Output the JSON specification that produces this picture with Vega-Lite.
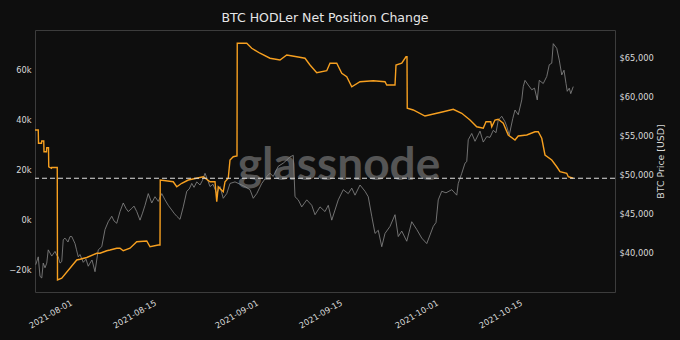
{
  "$schema": "https://vega.github.io/schema/vega-lite/v6.json",
  "width": 580,
  "height": 262,
  "autosize": {"type": "none"},
  "padding": {"left": 35, "top": 30, "right": 65, "bottom": 48},
  "background": "#0e0e0e",
  "title": {"text": "BTC HODLer Net Position Change", "color": "#e6e6e6", "font": "DejaVu Sans", "fontSize": 12.5, "fontWeight": "normal", "offset": 6},
  "config": {
    "view": {"stroke": "#3c3c3c", "strokeWidth": 1, "fill": "#0e0e0e"},
    "axis": {"labelFont": "DejaVu Sans", "labelFontSize": 8.3, "labelColor": "#d8d8d8", "titleFont": "DejaVu Sans", "titleFontWeight": "normal", "titleColor": "#d8d8d8", "domain": false, "ticks": false, "grid": false}
  },
  "datasets": {
    "price": [
      {"date": "2021-07-26T11:00", "price": 38600},
      {"date": "2021-07-26T21:00", "price": 39600},
      {"date": "2021-07-27T04:00", "price": 37100},
      {"date": "2021-07-27T11:00", "price": 36900},
      {"date": "2021-07-27T17:00", "price": 38800},
      {"date": "2021-07-28T00:00", "price": 38200},
      {"date": "2021-07-28T07:00", "price": 38800},
      {"date": "2021-07-28T13:00", "price": 40500},
      {"date": "2021-07-29T03:00", "price": 39700},
      {"date": "2021-07-29T16:00", "price": 40300},
      {"date": "2021-07-29T23:00", "price": 39800},
      {"date": "2021-07-30T05:00", "price": 39600},
      {"date": "2021-07-30T12:00", "price": 38800},
      {"date": "2021-07-30T19:00", "price": 39000},
      {"date": "2021-07-31T01:00", "price": 41800},
      {"date": "2021-07-31T08:00", "price": 42000},
      {"date": "2021-07-31T20:00", "price": 41500},
      {"date": "2021-08-01T04:00", "price": 42200},
      {"date": "2021-08-01T11:00", "price": 42200},
      {"date": "2021-08-02T00:00", "price": 41300},
      {"date": "2021-08-02T06:00", "price": 40500},
      {"date": "2021-08-02T13:00", "price": 39600},
      {"date": "2021-08-02T20:00", "price": 39900},
      {"date": "2021-08-03T09:00", "price": 38900},
      {"date": "2021-08-03T20:00", "price": 39300},
      {"date": "2021-08-04T05:00", "price": 38400},
      {"date": "2021-08-04T12:00", "price": 38800},
      {"date": "2021-08-04T20:00", "price": 39200},
      {"date": "2021-08-05T08:00", "price": 37700},
      {"date": "2021-08-05T21:00", "price": 40500},
      {"date": "2021-08-06T11:00", "price": 40900},
      {"date": "2021-08-07T00:00", "price": 43100},
      {"date": "2021-08-07T13:00", "price": 44100},
      {"date": "2021-08-08T03:00", "price": 44800},
      {"date": "2021-08-08T12:00", "price": 44200},
      {"date": "2021-08-08T23:00", "price": 43900},
      {"date": "2021-08-09T12:00", "price": 45400},
      {"date": "2021-08-10T01:00", "price": 46500},
      {"date": "2021-08-10T12:00", "price": 45800},
      {"date": "2021-08-10T21:00", "price": 45400},
      {"date": "2021-08-11T11:00", "price": 45800},
      {"date": "2021-08-11T20:00", "price": 46100},
      {"date": "2021-08-12T07:00", "price": 45400},
      {"date": "2021-08-12T20:00", "price": 44300},
      {"date": "2021-08-13T06:00", "price": 45200},
      {"date": "2021-08-13T16:00", "price": 46200},
      {"date": "2021-08-14T05:00", "price": 47700},
      {"date": "2021-08-14T19:00", "price": 46500},
      {"date": "2021-08-15T08:00", "price": 47300},
      {"date": "2021-08-15T21:00", "price": 46700},
      {"date": "2021-08-16T11:00", "price": 47700},
      {"date": "2021-08-17T00:00", "price": 46900},
      {"date": "2021-08-17T13:00", "price": 46200},
      {"date": "2021-08-18T03:00", "price": 45600},
      {"date": "2021-08-18T12:00", "price": 45200},
      {"date": "2021-08-18T23:00", "price": 44800},
      {"date": "2021-08-19T12:00", "price": 44400},
      {"date": "2021-08-20T01:00", "price": 46000},
      {"date": "2021-08-20T15:00", "price": 48000},
      {"date": "2021-08-21T01:00", "price": 48300},
      {"date": "2021-08-21T11:00", "price": 49000},
      {"date": "2021-08-21T20:00", "price": 48500},
      {"date": "2021-08-22T07:00", "price": 49200},
      {"date": "2021-08-22T20:00", "price": 48800},
      {"date": "2021-08-23T06:00", "price": 49400},
      {"date": "2021-08-23T16:00", "price": 50300},
      {"date": "2021-08-24T02:00", "price": 49500},
      {"date": "2021-08-24T12:00", "price": 48600},
      {"date": "2021-08-25T00:00", "price": 48900},
      {"date": "2021-08-25T15:00", "price": 47700},
      {"date": "2021-08-26T04:00", "price": 48600},
      {"date": "2021-08-26T17:00", "price": 47100},
      {"date": "2021-08-27T07:00", "price": 47700},
      {"date": "2021-08-27T20:00", "price": 49000},
      {"date": "2021-08-28T16:00", "price": 49200},
      {"date": "2021-08-29T12:00", "price": 48900},
      {"date": "2021-08-30T08:00", "price": 48600},
      {"date": "2021-08-31T04:00", "price": 48200},
      {"date": "2021-08-31T17:00", "price": 47100},
      {"date": "2021-09-01T07:00", "price": 47700},
      {"date": "2021-09-02T03:00", "price": 49000},
      {"date": "2021-09-02T23:00", "price": 49900},
      {"date": "2021-09-03T12:00", "price": 50300},
      {"date": "2021-09-04T01:00", "price": 49900},
      {"date": "2021-09-04T21:00", "price": 51200},
      {"date": "2021-09-05T17:00", "price": 51600},
      {"date": "2021-09-06T07:00", "price": 52000},
      {"date": "2021-09-06T20:00", "price": 52400},
      {"date": "2021-09-07T09:00", "price": 52600},
      {"date": "2021-09-07T16:00", "price": 47300},
      {"date": "2021-09-08T05:00", "price": 46900},
      {"date": "2021-09-08T19:00", "price": 46000},
      {"date": "2021-09-09T15:00", "price": 46900},
      {"date": "2021-09-10T11:00", "price": 46200},
      {"date": "2021-09-11T00:00", "price": 45000},
      {"date": "2021-09-11T20:00", "price": 46000},
      {"date": "2021-09-12T16:00", "price": 45400},
      {"date": "2021-09-13T05:00", "price": 46200},
      {"date": "2021-09-13T19:00", "price": 44300},
      {"date": "2021-09-14T08:00", "price": 45600},
      {"date": "2021-09-14T21:00", "price": 46900},
      {"date": "2021-09-15T17:00", "price": 48200},
      {"date": "2021-09-16T13:00", "price": 47700},
      {"date": "2021-09-17T03:00", "price": 48400},
      {"date": "2021-09-17T16:00", "price": 47500},
      {"date": "2021-09-18T12:00", "price": 48800},
      {"date": "2021-09-19T08:00", "price": 48000},
      {"date": "2021-09-19T21:00", "price": 47300},
      {"date": "2021-09-20T11:00", "price": 44800},
      {"date": "2021-09-21T00:00", "price": 42600},
      {"date": "2021-09-21T13:00", "price": 43000},
      {"date": "2021-09-22T03:00", "price": 40900},
      {"date": "2021-09-22T16:00", "price": 42600},
      {"date": "2021-09-23T12:00", "price": 43500},
      {"date": "2021-09-24T08:00", "price": 45000},
      {"date": "2021-09-24T21:00", "price": 42200},
      {"date": "2021-09-25T11:00", "price": 42900},
      {"date": "2021-09-26T07:00", "price": 41600},
      {"date": "2021-09-27T03:00", "price": 44100},
      {"date": "2021-09-27T23:00", "price": 43100},
      {"date": "2021-09-28T19:00", "price": 42000},
      {"date": "2021-09-29T15:00", "price": 41300},
      {"date": "2021-09-30T04:00", "price": 42400},
      {"date": "2021-09-30T17:00", "price": 43500},
      {"date": "2021-10-01T04:00", "price": 44000},
      {"date": "2021-10-01T13:00", "price": 46900},
      {"date": "2021-10-02T03:00", "price": 48000},
      {"date": "2021-10-02T20:00", "price": 47800},
      {"date": "2021-10-03T19:00", "price": 48200},
      {"date": "2021-10-04T15:00", "price": 47500},
      {"date": "2021-10-04T21:00", "price": 49000},
      {"date": "2021-10-05T11:00", "price": 50300},
      {"date": "2021-10-06T00:00", "price": 51600},
      {"date": "2021-10-06T07:00", "price": 51800},
      {"date": "2021-10-06T13:00", "price": 54600},
      {"date": "2021-10-07T03:00", "price": 55400},
      {"date": "2021-10-07T16:00", "price": 54400},
      {"date": "2021-10-08T12:00", "price": 55700},
      {"date": "2021-10-09T01:00", "price": 54300},
      {"date": "2021-10-09T15:00", "price": 55000},
      {"date": "2021-10-10T04:00", "price": 54900},
      {"date": "2021-10-10T17:00", "price": 55800},
      {"date": "2021-10-11T04:00", "price": 55500},
      {"date": "2021-10-11T13:00", "price": 57100},
      {"date": "2021-10-12T03:00", "price": 57600},
      {"date": "2021-10-12T16:00", "price": 56900},
      {"date": "2021-10-12T23:00", "price": 56300},
      {"date": "2021-10-13T09:00", "price": 55200},
      {"date": "2021-10-13T23:00", "price": 57300},
      {"date": "2021-10-14T08:00", "price": 58400},
      {"date": "2021-10-14T21:00", "price": 57800},
      {"date": "2021-10-15T11:00", "price": 59700},
      {"date": "2021-10-15T17:00", "price": 61400},
      {"date": "2021-10-16T00:00", "price": 62200},
      {"date": "2021-10-16T13:00", "price": 61600},
      {"date": "2021-10-17T03:00", "price": 61000},
      {"date": "2021-10-17T14:00", "price": 61200},
      {"date": "2021-10-18T01:00", "price": 59700},
      {"date": "2021-10-18T09:00", "price": 62200},
      {"date": "2021-10-19T01:00", "price": 61800},
      {"date": "2021-10-19T15:00", "price": 62700},
      {"date": "2021-10-20T01:00", "price": 64200},
      {"date": "2021-10-20T11:00", "price": 64400},
      {"date": "2021-10-20T17:00", "price": 66900},
      {"date": "2021-10-21T07:00", "price": 66300},
      {"date": "2021-10-21T17:00", "price": 64800},
      {"date": "2021-10-22T03:00", "price": 62900},
      {"date": "2021-10-22T12:00", "price": 63500},
      {"date": "2021-10-22T20:00", "price": 61800},
      {"date": "2021-10-23T01:00", "price": 60800},
      {"date": "2021-10-23T09:00", "price": 61200},
      {"date": "2021-10-23T15:00", "price": 60500},
      {"date": "2021-10-24T01:00", "price": 61400}
    ],
    "hodl": [
      {"date": "2021-07-26T08:00", "change": 36000},
      {"date": "2021-07-26T21:00", "change": 36000},
      {"date": "2021-07-26T22:00", "change": 30700},
      {"date": "2021-07-27T10:00", "change": 30700},
      {"date": "2021-07-27T11:00", "change": 31600},
      {"date": "2021-07-27T19:00", "change": 31600},
      {"date": "2021-07-27T20:00", "change": 27300},
      {"date": "2021-07-28T06:00", "change": 27300},
      {"date": "2021-07-28T07:00", "change": 28900},
      {"date": "2021-07-28T14:00", "change": 28900},
      {"date": "2021-07-28T15:00", "change": 21300},
      {"date": "2021-07-29T02:00", "change": 20700},
      {"date": "2021-07-29T03:00", "change": 21000},
      {"date": "2021-07-30T01:00", "change": 21000},
      {"date": "2021-07-30T02:00", "change": -24000},
      {"date": "2021-07-30T19:00", "change": -23300},
      {"date": "2021-08-02T07:00", "change": -16000},
      {"date": "2021-08-02T20:00", "change": -15700},
      {"date": "2021-08-03T23:00", "change": -15000},
      {"date": "2021-08-05T15:00", "change": -13300},
      {"date": "2021-08-06T04:00", "change": -13300},
      {"date": "2021-08-07T07:00", "change": -12300},
      {"date": "2021-08-07T20:00", "change": -12000},
      {"date": "2021-08-08T23:00", "change": -11300},
      {"date": "2021-08-09T12:00", "change": -11300},
      {"date": "2021-08-10T01:00", "change": -12300},
      {"date": "2021-08-11T04:00", "change": -11300},
      {"date": "2021-08-12T07:00", "change": -8700},
      {"date": "2021-08-13T23:00", "change": -8400},
      {"date": "2021-08-14T12:00", "change": -10700},
      {"date": "2021-08-15T21:00", "change": -10000},
      {"date": "2021-08-16T04:00", "change": -10000},
      {"date": "2021-08-16T05:00", "change": 16000},
      {"date": "2021-08-18T09:00", "change": 15300},
      {"date": "2021-08-18T23:00", "change": 13300},
      {"date": "2021-08-19T19:00", "change": 14700},
      {"date": "2021-08-20T21:00", "change": 16000},
      {"date": "2021-08-23T09:00", "change": 17300},
      {"date": "2021-08-24T12:00", "change": 15300},
      {"date": "2021-08-25T08:00", "change": 15300},
      {"date": "2021-08-25T15:00", "change": 7300},
      {"date": "2021-08-25T21:00", "change": 13300},
      {"date": "2021-08-26T17:00", "change": 11300},
      {"date": "2021-08-27T00:00", "change": 15300},
      {"date": "2021-08-27T13:00", "change": 16700},
      {"date": "2021-08-27T20:00", "change": 24000},
      {"date": "2021-08-28T09:00", "change": 25300},
      {"date": "2021-08-29T00:00", "change": 25600},
      {"date": "2021-08-29T01:00", "change": 70700},
      {"date": "2021-08-30T15:00", "change": 70700},
      {"date": "2021-08-31T11:00", "change": 68700},
      {"date": "2021-09-01T20:00", "change": 66700},
      {"date": "2021-09-03T12:00", "change": 64700},
      {"date": "2021-09-05T04:00", "change": 64000},
      {"date": "2021-09-06T07:00", "change": 66000},
      {"date": "2021-09-07T23:00", "change": 65300},
      {"date": "2021-09-09T08:00", "change": 64700},
      {"date": "2021-09-10T04:00", "change": 62000},
      {"date": "2021-09-11T07:00", "change": 58900},
      {"date": "2021-09-12T23:00", "change": 59700},
      {"date": "2021-09-13T12:00", "change": 62700},
      {"date": "2021-09-14T15:00", "change": 62700},
      {"date": "2021-09-15T11:00", "change": 58700},
      {"date": "2021-09-16T07:00", "change": 57300},
      {"date": "2021-09-17T03:00", "change": 53300},
      {"date": "2021-09-18T12:00", "change": 55300},
      {"date": "2021-09-20T17:00", "change": 55700},
      {"date": "2021-09-22T16:00", "change": 55300},
      {"date": "2021-09-22T23:00", "change": 54000},
      {"date": "2021-09-24T08:00", "change": 54000},
      {"date": "2021-09-24T12:00", "change": 62000},
      {"date": "2021-09-25T11:00", "change": 62700},
      {"date": "2021-09-26T04:00", "change": 65300},
      {"date": "2021-09-26T08:00", "change": 65300},
      {"date": "2021-09-26T09:00", "change": 44700},
      {"date": "2021-09-27T09:00", "change": 44000},
      {"date": "2021-09-29T08:00", "change": 41600},
      {"date": "2021-10-01T07:00", "change": 42700},
      {"date": "2021-10-02T09:00", "change": 43300},
      {"date": "2021-10-04T01:00", "change": 44300},
      {"date": "2021-10-05T11:00", "change": 42700},
      {"date": "2021-10-06T20:00", "change": 40000},
      {"date": "2021-10-07T23:00", "change": 37300},
      {"date": "2021-10-09T01:00", "change": 36700},
      {"date": "2021-10-09T12:00", "change": 39300},
      {"date": "2021-10-10T07:00", "change": 39300},
      {"date": "2021-10-10T11:00", "change": 37300},
      {"date": "2021-10-11T00:00", "change": 40000},
      {"date": "2021-10-11T13:00", "change": 40300},
      {"date": "2021-10-12T09:00", "change": 38700},
      {"date": "2021-10-13T05:00", "change": 34000},
      {"date": "2021-10-14T08:00", "change": 32000},
      {"date": "2021-10-14T21:00", "change": 33600},
      {"date": "2021-10-16T07:00", "change": 34000},
      {"date": "2021-10-17T16:00", "change": 35300},
      {"date": "2021-10-18T05:00", "change": 35300},
      {"date": "2021-10-18T19:00", "change": 32700},
      {"date": "2021-10-19T08:00", "change": 26000},
      {"date": "2021-10-20T11:00", "change": 24000},
      {"date": "2021-10-21T07:00", "change": 21300},
      {"date": "2021-10-21T20:00", "change": 19300},
      {"date": "2021-10-22T23:00", "change": 18700},
      {"date": "2021-10-23T05:00", "change": 17300},
      {"date": "2021-10-24T01:00", "change": 16700}
    ],
    "marks": [{"label": "glassnode", "latest": 16700}]
  },
  "layer": [
    {
      "layer": [
        {
          "data": {"name": "marks"},
          "mark": {"type": "text", "font": "Lato", "fontSize": 46, "fontWeight": "bold", "color": "#555555", "align": "center", "baseline": "alphabetic"},
          "encoding": {
            "text": {"field": "label"},
            "x": {"datum": {"year": 2021, "month": 9, "date": 15}, "type": "temporal"},
            "y": {"datum": 49450, "type": "quantitative"}
          }
        },
        {
          "data": {"name": "price"},
          "mark": {"type": "line", "color": "#8a8a8a", "strokeWidth": 0.8},
          "encoding": {
            "x": {"field": "date", "type": "temporal"},
            "y": {"field": "price", "type": "quantitative", "scale": {"domain": [35100, 68650], "nice": false, "zero": false},
              "axis": {"orient": "right", "title": "BTC Price [USD]", "titleFontSize": 9.4, "titleAngle": -90, "titlePadding": 12, "values": [40000, 45000, 50000, 55000, 60000, 65000], "format": "$,.0f", "labelPadding": 4}}
          }
        }
      ]
    },
    {
      "layer": [
        {
          "data": {"name": "hodl"},
          "mark": {"type": "line", "color": "#f7a020", "strokeWidth": 1.4},
          "encoding": {
            "x": {"field": "date", "type": "temporal", "title": null,
              "scale": {"domain": ["2021-07-26T08:00", "2021-10-31T00:00"]},
              "axis": {"values": [{"year": 2021, "month": 8, "date": 1}, {"year": 2021, "month": 8, "date": 15}, {"year": 2021, "month": 9, "date": 1}, {"year": 2021, "month": 9, "date": 15}, {"year": 2021, "month": 10, "date": 1}, {"year": 2021, "month": 10, "date": 15}], "format": "%Y-%m-%d", "labelAngle": -30, "labelAlign": "right", "labelBaseline": "top", "labelPadding": 6}},
            "y": {"field": "change", "type": "quantitative", "scale": {"domain": [-28800, 76000], "nice": false, "zero": false},
              "axis": {"orient": "left", "title": null, "values": [-20000, 0, 20000, 40000, 60000], "format": "~s", "labelPadding": 4}}
          }
        },
        {
          "data": {"name": "marks"},
          "mark": {"type": "rule", "color": "#e0e0e0", "strokeWidth": 1.2, "strokeDash": [5, 3]},
          "encoding": {
            "y": {"field": "latest", "type": "quantitative"}
          }
        }
      ]
    }
  ],
  "resolve": {"scale": {"y": "independent"}}
}
